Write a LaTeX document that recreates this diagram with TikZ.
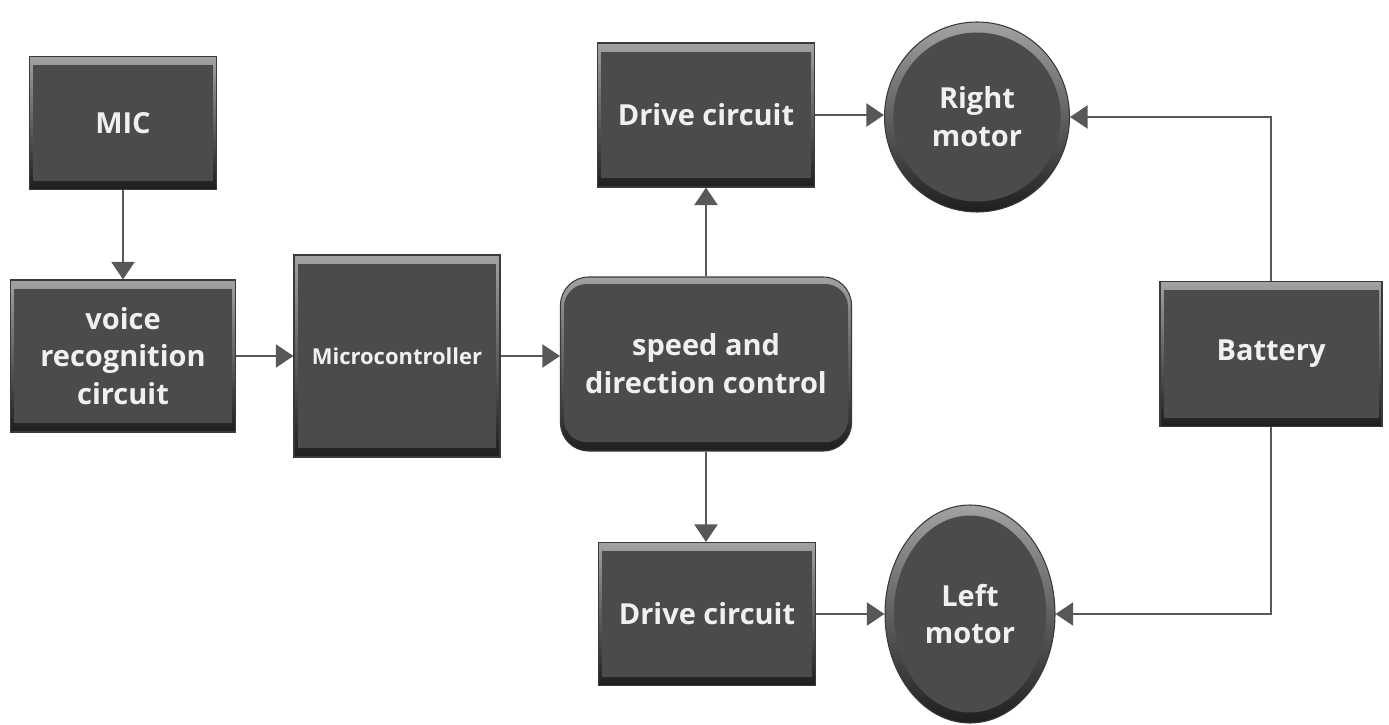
\documentclass[tikz,border=0pt]{standalone}
\usepackage{fontspec}
\setmainfont{Open Sans}
\usetikzlibrary{arrows.meta,calc,shapes.geometric}

\definecolor{boxfill}{HTML}{4B4B4B}
\definecolor{bevtop}{HTML}{A2A2A2}
\definecolor{bevbot}{HTML}{1E1E1E}
\definecolor{edge}{HTML}{3A3A3A}
\definecolor{wire}{HTML}{585858}

\begin{document}
\begin{tikzpicture}[
  bevel/.style={draw=edge, line width=0.6pt, top color=bevtop, bottom color=bevbot,
    text=white!94!black, font=\fontsize{16.5}{21.5}\selectfont\bfseries, align=center, inner sep=0pt},
  block/.style={bevel, rectangle,
    path picture={\fill[boxfill] ([shift={(2pt,-5pt)}]path picture bounding box.north west)
      rectangle ([shift={(-2pt,5pt)}]path picture bounding box.south east);}},
  ctrlbox/.style={bevel, rectangle, rounded corners=16pt,
    path picture={\fill[boxfill, rounded corners=13pt] ([shift={(2pt,-4pt)}]path picture bounding box.north west)
      rectangle ([shift={(-2pt,5pt)}]path picture bounding box.south east);}},
  motor/.style={bevel, ellipse,
    path picture={\fill[boxfill] let \p1=(path picture bounding box.south west),
      \p2=(path picture bounding box.north east) in
      (path picture bounding box.center) ellipse ({(\x2-\x1)/2-5pt} and {(\y2-\y1)/2-6pt});}},
  conn/.style={color=wire, line width=1.6pt, -{Triangle[length=10pt,width=13pt]}}]
  \useasboundingbox (0,0) rectangle (27.78,14.48);

  % signal chain
  \node[block, minimum width=3.74cm, minimum height=2.66cm] (mic) at (2.46,12.02) {MIC};
  \node[block, minimum width=4.5cm, minimum height=3.04cm] (voice) at (2.46,7.36) {voice\\recognition\\circuit};
  \node[block, minimum width=4.12cm, minimum height=4.04cm,
    font=\fontsize{12.5}{15}\selectfont\bfseries] (mcu) at (7.94,7.36) {Microcontroller};
  \node[ctrlbox, minimum width=5.82cm, minimum height=3.48cm] (ctrl) at (14.12,7.2) {speed and\\direction control};

  % drives and motors
  \node[block, minimum width=4.34cm, minimum height=2.88cm] (drvR) at (14.12,12.18) {Drive circuit};
  \node[block, minimum width=4.34cm, minimum height=2.86cm] (drvL) at (14.14,2.2) {Drive circuit};
  \node[motor, minimum width=3.7cm, minimum height=3.8cm] (motR) at (19.54,12.14) {Right\\motor};
  \node[motor, minimum width=3.4cm, minimum height=4.36cm] (motL) at (19.4,2.2) {Left\\motor};
  \node[block, minimum width=4.44cm, minimum height=2.9cm] (bat) at (25.42,7.4) {Battery};

  \draw[conn] (mic) -- (voice);
  \draw[conn] (voice) -- (mcu);
  \draw[conn] (mcu.east) -- (mcu.east -| ctrl.west);
  \draw[conn] (ctrl.north) -- (ctrl.north |- drvR.south);
  \draw[conn] (ctrl.south) -- (ctrl.south |- drvL.north);
  \draw[conn] (drvR.east) -- (drvR.east -| motR.west);
  \draw[conn] (drvL) -- (motL);
  % power lines
  \draw[conn] (bat.north) |- (motR.east);
  \draw[conn] (bat.south) |- (motL.east);
\end{tikzpicture}
\end{document}
